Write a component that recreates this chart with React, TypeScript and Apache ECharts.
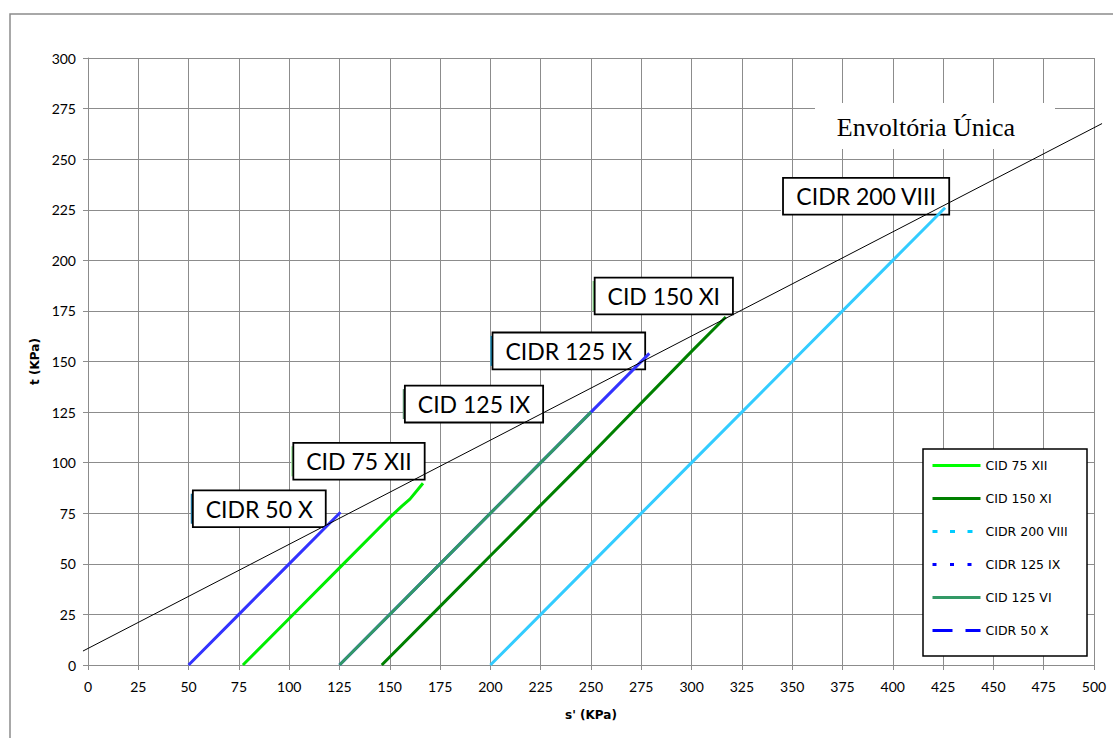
import React, { useEffect, useRef } from "react";
import * as echarts from "echarts";

// Stress paths: [s' (kPa), t (kPa)]
const cid75xii: [number, number][] = [[77, 0], [100, 23], [125, 48], [150, 73], [156, 78.5], [160, 82], [166.5, 89.8]];
const cid150xi: [number, number][] = [[146, 0], [175, 29], [200, 54], [250, 104], [300, 155], [317, 172]];
const cidr200viii: [number, number][] = [[200, 0], [250, 50], [300, 100], [350, 150], [400, 200], [426, 226]];
const cidr125ix: [number, number][] = [[125, 0], [175, 50], [225, 100], [250, 125], [279, 154]];
const cid125vi: [number, number][] = [[125, 0], [175, 50], [225, 100], [250, 125]];
const cidr50x: [number, number][] = [[50, 0], [75, 25], [100, 50], [125.5, 75.5]];
// Failure envelope ends (extends slightly beyond the axes)
const envelope: [number, number][] = [[-2.5, 6.9], [504, 267.6]];

const seriesNames = ["CID 75 XII", "CID 150 XI", "CIDR 200 VIII", "CIDR 125 IX", "CID 125 VI", "CIDR 50 X"];
const labelTexts = ["CID 75 XII", "CID 150 XI", "CIDR 200 VIII", "CIDR 125 IX", "CID 125 IX", "CIDR 50 X"];
const envelopeTitle = "Envoltória Única";
const xName = "s' (KPa)";
const yName = "t (KPa)";

const FONT = "Lato, 'Noto Sans', sans-serif";
const SMALL_FONT = "'DejaVu Sans', sans-serif";

export default function App() {
  const ref = useRef<HTMLDivElement>(null);
  useEffect(() => {
    if (!ref.current) return;
    const chart = echarts.init(ref.current, null, { renderer: "svg" });
    const datasets = [cid75xii, cid150xi, cidr200viii, cidr125ix, cid125vi, cidr50x];
    const colors = ["#00EE00", "#008000", "#33CCFF", "#3333FF", "#339966", "#3333FF"];
    const legendColors = ["#00FF00", "#008000", "#00CCFF", "#0000FF", "#339966", "#0000FF"];
    const legendDash: any[] = ["solid", "solid", [5, 12.5], [4, 13.5], "solid", [20, 13]];
    const markColors = ["#9fe89f", "#7fcf7f", "#ffffff", "#1a9fd0", "#5a8a6a", "#1a6f9a"];
    const offsets: [number, number][] = [[-65.5, -22], [-63.5, -21], [-80.5, -11.5], [-82, -2.5], [-118.5, -8], [-82.7, -3.5]];

    const series: any[] = datasets.map((d, i) => ({
      name: seriesNames[i],
      type: "line",
      data: d,
      symbol: "none",
      lineStyle: { color: colors[i], width: 3 },
      itemStyle: { color: colors[i] },
      z: 3 + i,
      markPoint: {
        symbol: "circle",
        symbolSize: 2,
        silent: true,
        itemStyle: { color: "rgba(0,0,0,0)" },
        data: [
          {
            coord: d[d.length - 1],
            label: {
              show: true,
              position: "inside",
              offset: offsets[i],
              formatter: "{m|}{t|" + labelTexts[i] + "}",
              rich: {
                m: { width: 3, height: 30, backgroundColor: markColors[i], verticalAlign: "middle" },
                t: {
                  fontSize: 23,
                  fontFamily: FONT,
                  color: "#000",
                  backgroundColor: "#fff",
                  borderColor: "#000",
                  borderWidth: 1.8,
                  padding: [6, 12, 6, 12],
                  lineHeight: 25,
                  verticalAlign: "middle",
                },
              },
            },
          },
        ],
      },
    }));

    series.push({
      name: "envelope",
      type: "custom",
      silent: true,
      z: 10,
      encode: { x: [0, 2], y: [1, 3] },
      data: [[envelope[0][0], envelope[0][1], envelope[1][0], envelope[1][1]]],
      renderItem: (params: any, api: any) => {
        const p0 = api.coord([api.value(0), api.value(1)]);
        const p1 = api.coord([api.value(2), api.value(3)]);
        return {
          type: "line",
          shape: { x1: p0[0], y1: p0[1], x2: p1[0], y2: p1[1] },
          style: { stroke: "#000", lineWidth: 1 },
        };
      },
    });

    chart.setOption({
      animation: false,
      backgroundColor: "#fff",
      grid: { left: 88, right: 19, top: 58, bottom: 73 },
      xAxis: {
        type: "value",
        min: 0,
        max: 500,
        interval: 25,
        name: xName,
        nameLocation: "middle",
        nameGap: 44,
        nameTextStyle: { fontSize: 12, fontWeight: "bold", fontFamily: SMALL_FONT, color: "#000" },
        axisLine: { show: true, lineStyle: { color: "#8c8c8c", width: 1 } },
        axisTick: { show: true, length: 5, lineStyle: { color: "#8c8c8c" } },
        axisLabel: { fontSize: 14, fontFamily: FONT, color: "#000", margin: 14 },
        splitLine: { show: true, lineStyle: { color: "#8c8c8c", width: 1 } },
      },
      yAxis: {
        type: "value",
        min: 0,
        max: 300,
        interval: 25,
        name: yName,
        nameLocation: "middle",
        nameGap: 46,
        nameTextStyle: { fontSize: 12, fontWeight: "bold", fontFamily: SMALL_FONT, color: "#000" },
        axisLine: { show: true, lineStyle: { color: "#8c8c8c", width: 1 } },
        axisTick: { show: true, length: 5, lineStyle: { color: "#8c8c8c" } },
        axisLabel: { fontSize: 14, fontFamily: FONT, color: "#000", margin: 12 },
        splitLine: { show: true, lineStyle: { color: "#8c8c8c", width: 1 } },
      },
      legend: {
        orient: "vertical",
        left: 931,
        top: 459,
        itemWidth: 48,
        itemHeight: 14,
        itemGap: 20,
        padding: 0,
        textStyle: { fontSize: 12.5, fontFamily: SMALL_FONT, color: "#000" },
        data: seriesNames.map((n, i) => ({
          name: n,
          itemStyle: { color: legendColors[i], opacity: 0, borderWidth: 0 },
          lineStyle: { color: legendColors[i], width: 3, type: legendDash[i], opacity: 1 },
        })),
      },
      graphic: [
        {
          type: "rect",
          z: -10,
          silent: true,
          shape: { x: 10, y: 14, width: 1200, height: 800 },
          style: { fill: "none", stroke: "#8c8c8c", lineWidth: 1.5 },
        },
        {
          type: "rect",
          z: 1,
          silent: true,
          shape: { x: 815, y: 103, width: 240, height: 46 },
          style: { fill: "#fff" },
        },
        {
          type: "text",
          z: 1,
          silent: true,
          x: 926,
          y: 127,
          style: {
            text: envelopeTitle,
            fontSize: 26,
            fontFamily: "'Liberation Serif', 'DejaVu Serif', serif",
            fill: "#000",
            align: "center",
            verticalAlign: "middle",
          },
        },
        {
          type: "rect",
          z: 1,
          silent: true,
          shape: { x: 923, y: 449, width: 164, height: 207 },
          style: { fill: "#fff", stroke: "#000", lineWidth: 1.5 },
        },
      ],
      series,
    });
    return () => chart.dispose();
  }, []);
  return <div ref={ref} style={{ position: "fixed", left: 0, top: 0, width: 1113, height: 738 }} />;
}
